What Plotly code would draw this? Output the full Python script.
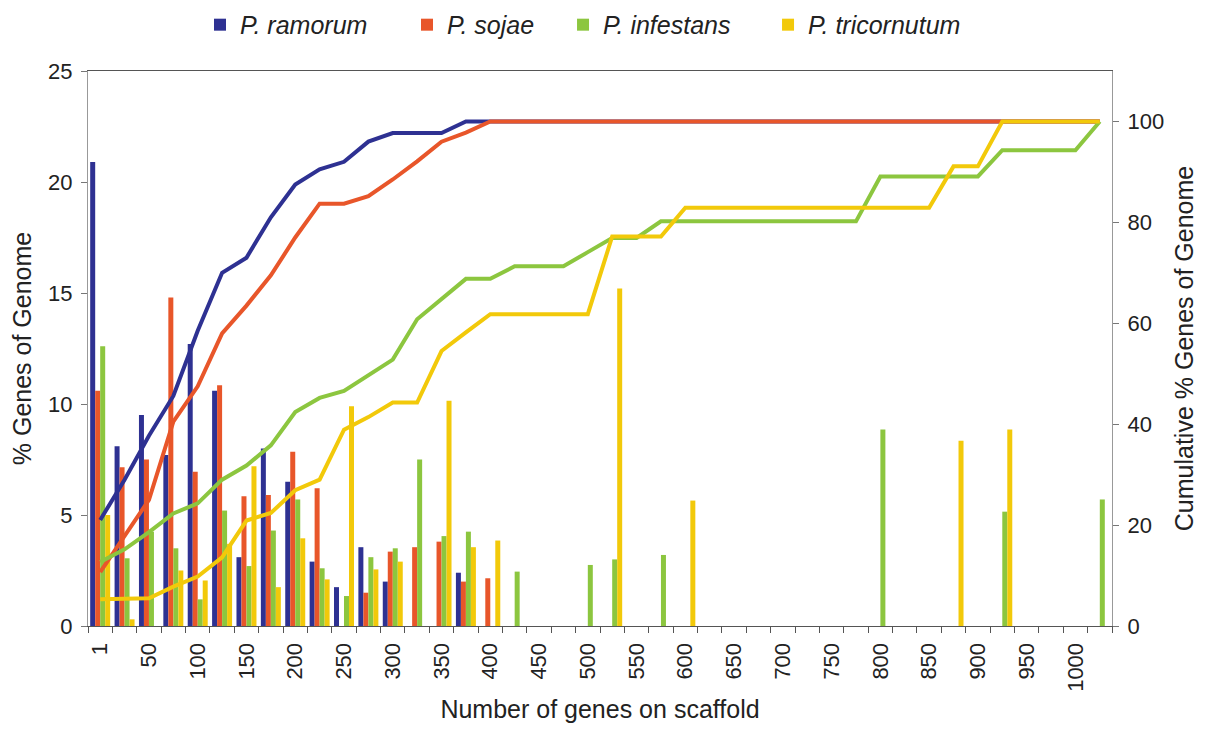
import plotly.graph_objects as go

categories = ["1", "25", "50", "75", "100", "125", "150", "175", "200", "225",
              "250", "275", "300", "325", "350", "375", "400", "425", "450", "475",
              "500", "525", "550", "575", "600", "625", "650", "675", "700", "725",
              "750", "775", "800", "825", "850", "875", "900", "925", "950", "975",
              "1000", "1025"]
tick_labels = ["1", "", "50", "", "100", "", "150", "", "200", "",
               "250", "", "300", "", "350", "", "400", "", "450", "",
               "500", "", "550", "", "600", "", "650", "", "700", "",
               "750", "", "800", "", "850", "", "900", "", "950", "",
               "1000", ""]

N = None
ramorum_pct = [20.9, 8.1, 9.5, 7.7, 12.7, 10.6, 3.1, 8.0, 6.5, 2.9,
               1.75, 3.55, 2.0, N, N, 2.4, N, N, N, N,
               N, N, N, N, N, N, N, N, N, N,
               N, N, N, N, N, N, N, N, N, N, N, N]
sojae_pct = [10.6, 7.15, 7.5, 14.8, 6.95, 10.85, 5.85, 5.9, 7.85, 6.2,
             N, 1.5, 3.35, 3.55, 3.8, 2.0, 2.15, N, N, N,
             N, N, N, N, N, N, N, N, N, N,
             N, N, N, N, N, N, N, N, N, N, N, N]
infestans_pct = [12.6, 3.05, 4.25, 3.5, 1.2, 5.2, 2.7, 4.3, 5.7, 2.6,
                 1.35, 3.1, 3.5, 7.5, 4.05, 4.25, N, 2.45, N, N,
                 2.75, 3.0, N, 3.2, N, N, N, N, N, N,
                 N, N, 8.85, N, N, N, N, 5.15, N, N, N, 5.7]
tricornutum_pct = [5.0, 0.3, N, 2.5, 2.05, 3.7, 7.2, 1.75, 3.95, 2.1,
                   9.9, 2.55, 2.9, N, 10.15, 3.55, 3.85, N, N, N,
                   N, 15.2, N, N, 5.65, N, N, N, N, N,
                   N, N, N, N, N, 8.35, N, 8.85, N, N, N, N]

ramorum_cum = [21, 29, 37.7, 45.6, 58.5, 70, 73, 81, 87.5, 90.5,
               92, 96, 97.7, 97.7, 97.7, 100, 100, 100, 100, 100,
               100, 100, 100, 100, 100, 100, 100, 100, 100, 100,
               100, 100, 100, 100, 100, 100, 100, 100, 100, 100, 100, 100]
sojae_cum = [10.7, 17.7, 25, 40.5, 47.5, 58, 63.5, 69.5, 77, 83.7,
             83.7, 85.2, 88.5, 92.1, 96, 97.8, 100, 100, 100, 100,
             100, 100, 100, 100, 100, 100, 100, 100, 100, 100,
             100, 100, 100, 100, 100, 100, 100, 100, 100, 100, 100, 100]
infestans_cum = [12.7, 15.2, 18.6, 22.3, 24.3, 29, 31.8, 35.8, 42.4, 45.2,
                 46.6, 49.6, 52.8, 60.8, 64.8, 68.8, 68.8, 71.3, 71.3, 71.3,
                 74.1, 76.9, 76.9, 80.2, 80.2, 80.2, 80.2, 80.2, 80.2, 80.2,
                 80.2, 80.2, 89.1, 89.1, 89.1, 89.1, 89.1, 94.3, 94.3, 94.3, 94.3, 100]
tricornutum_cum = [5.3, 5.4, 5.5, 7.8, 9.8, 13.6, 20.9, 22.4, 26.9, 29,
                   38.9, 41.4, 44.3, 44.3, 54.5, 58.2, 61.8, 61.8, 61.8, 61.8,
                   61.8, 77.2, 77.2, 77.2, 82.9, 82.9, 82.9, 82.9, 82.9, 82.9,
                   82.9, 82.9, 82.9, 82.9, 82.9, 91.1, 91.1, 100, 100, 100, 100, 100]

series = [
    ("P. ramorum", ramorum_pct, ramorum_cum, "#2e3192"),
    ("P. sojae", sojae_pct, sojae_cum, "#e8562a"),
    ("P. infestans", infestans_pct, infestans_cum, "#8cc63f"),
    ("P. tricornutum", tricornutum_pct, tricornutum_cum, "#f2c90a"),
]
legend_ids = ["legend", "legend2", "legend3", "legend4"]
legend_x = [0.1094, 0.3115, 0.4639, 0.6641]

fig = go.Figure()
for i, (name, pct, cum, color) in enumerate(series):
    fig.add_trace(go.Bar(x=categories, y=pct, name=name,
                         marker=dict(color=color, line=dict(width=0)),
                         legend=legend_ids[i], yaxis="y"))
for name, pct, cum, color in series:
    fig.add_trace(go.Scatter(x=categories, y=cum, mode="lines", name=name,
                             line=dict(color=color, width=4),
                             showlegend=False, yaxis="y2"))

font_family = "Liberation Sans, Arial, sans-serif"
legend_layout = {}
for lid, lx in zip(legend_ids, legend_x):
    legend_layout[lid] = dict(orientation="h", x=lx, xanchor="left",
                              y=1.083, yanchor="middle",
                              font=dict(size=25, style="italic"), itemwidth=30,
                              bgcolor="rgba(0,0,0,0)")

fig.update_layout(
    width=1190, height=715,
    margin=dict(l=80, r=86, t=63, b=97, pad=0, autoexpand=False),
    paper_bgcolor="white", plot_bgcolor="white",
    font=dict(family=font_family, size=21, color="#222222"),
    barmode="group", bargap=0.18, bargroupgap=0,
    xaxis=dict(type="category", categoryorder="array", categoryarray=categories,
               tickmode="array", tickvals=categories, ticktext=tick_labels,
               tickangle=-90, ticks="outside", ticklen=6, tickcolor="#555555",
               tickson="boundaries", showline=True, linecolor="#555555", linewidth=1.2,
               mirror=True, showgrid=False, zeroline=False, automargin=False,
               ticklabelstandoff=7,
               title=dict(text="Number of genes on scaffold", standoff=30),
               tickfont=dict(size=22)),
    yaxis=dict(range=[0, 25], tickmode="array", tickvals=[0, 5, 10, 15, 20, 25],
               ticks="outside", ticklen=6, tickcolor="#777777",
               showline=True, linecolor="#999999", linewidth=1.2,
               showgrid=False, zeroline=False, automargin=False,
               ticklabelstandoff=4, tickfont=dict(size=22),
               title=dict(text="% Genes of Genome", standoff=16)),
    yaxis2=dict(range=[0, 110], overlaying="y", side="right",
                tickmode="array", tickvals=[0, 20, 40, 60, 80, 100],
                ticks="outside", ticklen=6, tickcolor="#777777",
                showline=True, linecolor="#999999", linewidth=1.2,
                showgrid=False, zeroline=False, automargin=False,
                ticklabelstandoff=4, tickfont=dict(size=22),
                title=dict(text="Cumulative % Genes of Genome", standoff=14)),
    **legend_layout,
)

fig.write_html("out.html")
